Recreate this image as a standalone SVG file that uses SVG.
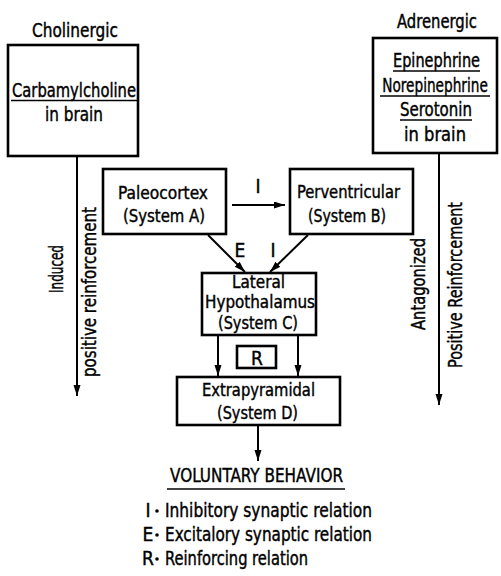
<svg xmlns="http://www.w3.org/2000/svg" width="501" height="576" viewBox="0 0 501 576">
  <style>
    .box { fill: #fff; stroke: #000; stroke-width: 2.6; }
    .ln { stroke: #000; stroke-width: 2; fill: none; }
    .ul { stroke: #000; stroke-width: 1.4; }
    text { font-family: "Liberation Sans Narrow", "DejaVu Sans Condensed", "Liberation Sans", sans-serif; font-size: 19px; fill: #000; stroke: #000; stroke-width: 0.4; }
    .sm { font-size: 18px; }
    .c { text-anchor: middle; }
  </style>
  <defs>
    <marker id="arrow" markerUnits="userSpaceOnUse" markerWidth="12" markerHeight="8" refX="11" refY="3.5" orient="auto">
      <path d="M0,0 L11,3.5 L0,7 Z" fill="#000"/>
    </marker>
  </defs>
  <rect width="501" height="576" fill="#fff"/>

  <!-- connectors -->
  <g id="connectors">
    <line class="ln" x1="77" y1="156" x2="77" y2="396" marker-end="url(#arrow)"/>
    <line class="ln" x1="439" y1="153" x2="439" y2="405" marker-end="url(#arrow)"/>
    <line class="ln" x1="232" y1="205" x2="285" y2="205" marker-end="url(#arrow)"/>
    <line class="ln" x1="208" y1="235" x2="245" y2="272" marker-end="url(#arrow)"/>
    <line class="ln" x1="308" y1="235" x2="270" y2="272" marker-end="url(#arrow)"/>
    <line class="ln" x1="218" y1="336" x2="218" y2="376" marker-end="url(#arrow)"/>
    <line class="ln" x1="298" y1="336" x2="298" y2="376" marker-end="url(#arrow)"/>
    <line class="ln" x1="258" y1="426" x2="258" y2="461" marker-end="url(#arrow)"/>
    <text class="c" x="258" y="193">I</text>
    <text class="c" x="240" y="257">E</text>
    <text class="c" x="273" y="257">I</text>
  </g>

  <!-- cholinergic side -->
  <g id="cholinergic">
    <text x="32" y="37" textLength="86" lengthAdjust="spacingAndGlyphs">Cholinergic</text>
    <rect class="box" x="8" y="45" width="130" height="111"/>
    <text x="12" y="97" textLength="124" lengthAdjust="spacingAndGlyphs">Carbamylcholine</text>
    <line class="ul" x1="11" y1="100.5" x2="137" y2="100.5"/>
    <text x="45" y="121" textLength="58" lengthAdjust="spacingAndGlyphs">in brain</text>
  </g>
  <g id="induced-label">
    <text class="c" transform="translate(63,269) rotate(-90)" textLength="48" lengthAdjust="spacingAndGlyphs">Induced</text>
    <text class="c" transform="translate(96,292) rotate(-90)" textLength="170" lengthAdjust="spacingAndGlyphs">positive reinforcement</text>
  </g>

  <!-- adrenergic side -->
  <g id="adrenergic">
    <text x="397" y="28" textLength="80" lengthAdjust="spacingAndGlyphs">Adrenergic</text>
    <rect class="box" x="373" y="38" width="124" height="115"/>
    <text x="393" y="67" textLength="87" lengthAdjust="spacingAndGlyphs">Epinephrine</text>
    <line class="ul" x1="393" y1="71" x2="480" y2="71"/>
    <text class="c" transform="translate(435,92) scale(0.8,1)">Norepinephrine</text>
    <line class="ul" x1="380" y1="96" x2="490" y2="96"/>
    <text x="400" y="116" textLength="72" lengthAdjust="spacingAndGlyphs">Serotonin</text>
    <line class="ul" x1="400" y1="120" x2="472" y2="120"/>
    <text x="404" y="141" textLength="62" lengthAdjust="spacingAndGlyphs">in brain</text>
  </g>
  <g id="antagonized-label">
    <text class="c" transform="translate(425,284) rotate(-90)" textLength="92" lengthAdjust="spacingAndGlyphs">Antagonized</text>
    <text class="c" transform="translate(462,285) rotate(-90)" textLength="166" lengthAdjust="spacingAndGlyphs">Positive Reinforcement</text>
  </g>

  <!-- systems -->
  <g id="system-a">
    <rect class="box" x="103" y="169" width="123" height="65"/>
    <text class="sm" x="118" y="199" textLength="90" lengthAdjust="spacingAndGlyphs">Paleocortex</text>
    <text class="sm" x="123" y="222" textLength="82" lengthAdjust="spacingAndGlyphs">(System A)</text>
  </g>
  <g id="system-b">
    <rect class="box" x="290" y="169" width="123" height="65"/>
    <text class="sm" x="297" y="198" textLength="103" lengthAdjust="spacingAndGlyphs">Perventricular</text>
    <text class="sm" x="308" y="222" textLength="78" lengthAdjust="spacingAndGlyphs">(System B)</text>
  </g>
  <g id="system-c">
    <rect class="box" x="202" y="273" width="114" height="62"/>
    <text class="sm" x="232" y="288" textLength="53" lengthAdjust="spacingAndGlyphs">Lateral</text>
    <text class="sm" x="205" y="308" textLength="110" lengthAdjust="spacingAndGlyphs">Hypothalamus</text>
    <text class="sm" x="218" y="329" textLength="80" lengthAdjust="spacingAndGlyphs">(System C)</text>
  </g>
  <g id="reinforcing">
    <rect class="box" x="237" y="346" width="39" height="22"/>
    <text class="c" x="257" y="365">R</text>
  </g>
  <g id="system-d">
    <rect class="box" x="177" y="377" width="163" height="48"/>
    <text class="sm" x="202" y="396" textLength="113" lengthAdjust="spacingAndGlyphs">Extrapyramidal</text>
    <text class="sm" x="217" y="419" textLength="81" lengthAdjust="spacingAndGlyphs">(System D)</text>
  </g>
  <g id="output">
    <text x="170" y="482" textLength="173" lengthAdjust="spacingAndGlyphs">VOLUNTARY BEHAVIOR</text>
    <line class="ul" x1="167" y1="489" x2="345" y2="489"/>
  </g>

  <!-- key -->
  <g id="key">
    <text class="c" x="148" y="517">I</text>
    <circle cx="157" cy="511" r="1.8"/>
    <text x="165" y="517" textLength="207" lengthAdjust="spacingAndGlyphs">Inhibitory synaptic relation</text>
    <text class="c" x="148" y="541">E</text>
    <circle cx="157" cy="535" r="1.8"/>
    <text x="165" y="541" textLength="207" lengthAdjust="spacingAndGlyphs">Excitalory synaptic relation</text>
    <text class="c" x="148" y="565">R</text>
    <circle cx="157" cy="559" r="1.8"/>
    <text x="165" y="565" textLength="143" lengthAdjust="spacingAndGlyphs">Reinforcing relation</text>
  </g>
</svg>
